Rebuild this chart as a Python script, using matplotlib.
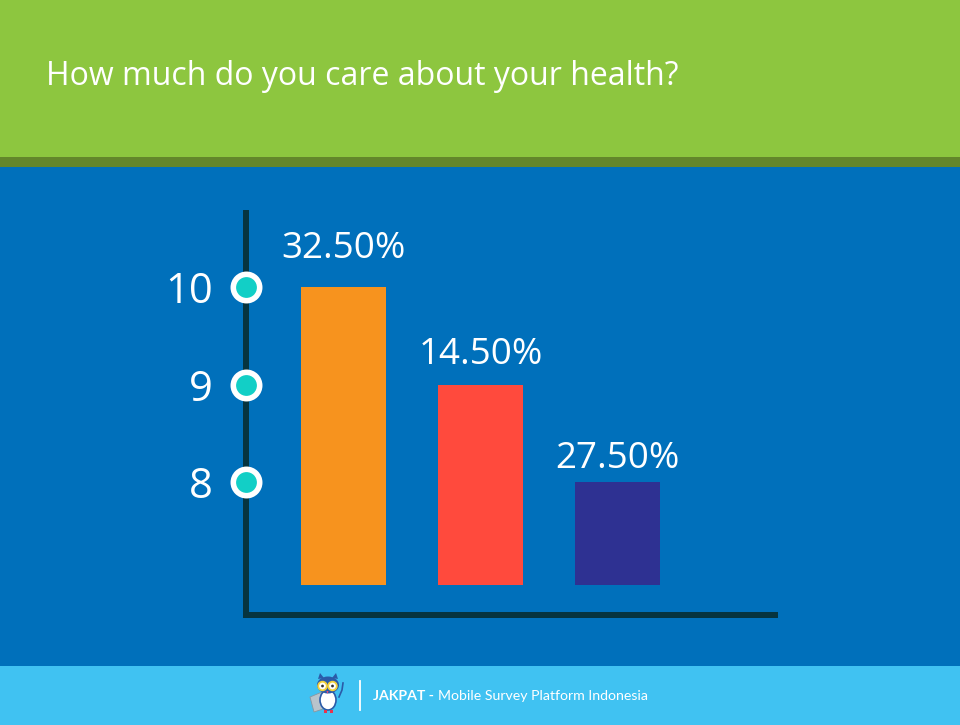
import matplotlib as mpl
mpl.use('Agg')
import matplotlib.pyplot as plt
from matplotlib.patches import Rectangle, Circle, Ellipse, Polygon

# data
scores = [10, 9, 8]
shares = ['32.50%', '14.50%', '27.50%']
bar_colors = ['#F7931E', '#FF4A3D', '#2E3192']
tick_labels = ['10', '9', '8']
title = 'How much do you care about your health?'

W, H = 960, 725
fig = plt.figure(figsize=(W / 100, H / 100), dpi=100)

# background bands, drawn in pixel coords on a full-figure axes
bg = fig.add_axes([0, 0, 1, 1], zorder=0)
bg.set_xlim(0, W)
bg.set_ylim(H, 0)
bg.axis('off')
bg.add_patch(Rectangle((0, 0), W, 157, color='#8DC63F', lw=0))
bg.add_patch(Rectangle((0, 157), W, 10, color='#63862B', lw=0))
bg.add_patch(Rectangle((0, 167), W, 499, color='#0070BB', lw=0))
bg.add_patch(Rectangle((0, 666), W, 59, color='#40C2F2', lw=0))

# footer: tiny owl + separator + text
bg.add_patch(Polygon([(310, 697), (322, 692), (326, 708), (314, 712)], closed=True,
                     fc='#B8C4CC', ec='#8A96A0', lw=0.6, zorder=2))
bg.add_patch(Ellipse((328, 700), 16, 20, fc='white', ec='#2B5BA8', lw=1.2, zorder=3))
bg.add_patch(Ellipse((328, 685), 22, 17, fc='#2B5BA8', lw=0, zorder=4))
bg.add_patch(Polygon([(318, 679), (320, 673), (324, 678)], closed=True, fc='#2B5BA8', lw=0, zorder=4))
bg.add_patch(Polygon([(338, 679), (336, 673), (332, 678)], closed=True, fc='#2B5BA8', lw=0, zorder=4))
for ex in (322.5, 332.5):
    bg.add_patch(Circle((ex, 686), 4.3, fc='white', ec='#F4D23C', lw=1.3, zorder=5))
    bg.add_patch(Circle((ex, 686), 1.4, fc='#333333', lw=0, zorder=6))
bg.add_patch(Polygon([(326.5, 691), (328.5, 691), (327.5, 694)], closed=True, fc='#E94B7A', lw=0, zorder=6))
bg.plot([339, 342, 343], [697, 690, 683], color='#2B5BA8', lw=1.2, zorder=3)
bg.add_patch(Rectangle((324, 710), 2.5, 3, fc='#E8344E', lw=0, zorder=3))
bg.add_patch(Rectangle((330, 710), 2.5, 3, fc='#E8344E', lw=0, zorder=3))
bg.plot([360, 360], [681, 710], color='white', lw=1.3)

footer_bold = fig.text(373 / W, 1 - 700 / H, 'JAKPAT -', color='white', fontsize=10.2,
                       fontweight='bold', family='Lato', va='baseline')
fig.canvas.draw()
r = fig.canvas.get_renderer()
x1 = footer_bold.get_window_extent(r).x1
fig.text((x1 + 4) / W, 1 - 700 / H, 'Mobile Survey Platform Indonesia', color='white',
         fontsize=10.2, family='Lato', va='baseline')

fig.text(46 / W, 1 - 85 / H, title, color='white', fontsize=23, family='Open Sans',
         va='baseline')

# main chart
ax = fig.add_axes([246 / W, 1 - 615 / H, (775 - 246) / W, (615 - 213) / H], zorder=2)
ax.patch.set_alpha(0)
base = 6.94
xs = list(range(len(scores)))
ax.bar(xs, [s - base for s in scores], bottom=base, width=0.62, color=bar_colors, zorder=2)
ax.set_xlim(-0.7117, 3.1496)
ax.set_ylim(6.636, 10.759)

for sp in ['top', 'right']:
    ax.spines[sp].set_visible(False)
for sp in ['left', 'bottom']:
    ax.spines[sp].set_color('#06343F')
    ax.spines[sp].set_linewidth(4.3)
    ax.spines[sp].set_capstyle('projecting')

ax.set_xticks([])
ax.set_yticks(scores)
ax.set_yticklabels(tick_labels, family='Open Sans')
ax.tick_params(axis='y', length=0, pad=24, labelsize=30, labelcolor='white')

# ring markers on the y axis
ax.plot([ax.get_xlim()[0]] * len(scores), scores, 'o', ms=19, mew=4,
        mfc='#12CFC6', mec='white', clip_on=False, zorder=5)

label_pads = [21, 15, 10]  # points above the bar top
for x, s, lab, p in zip(xs, scores, shares, label_pads):
    ax.annotate(lab, (x, s), xytext=(0, p), textcoords='offset points',
                ha='center', va='baseline', color='white', fontsize=26.5,
                family='Open Sans')

fig.savefig('out.png', dpi=100)
